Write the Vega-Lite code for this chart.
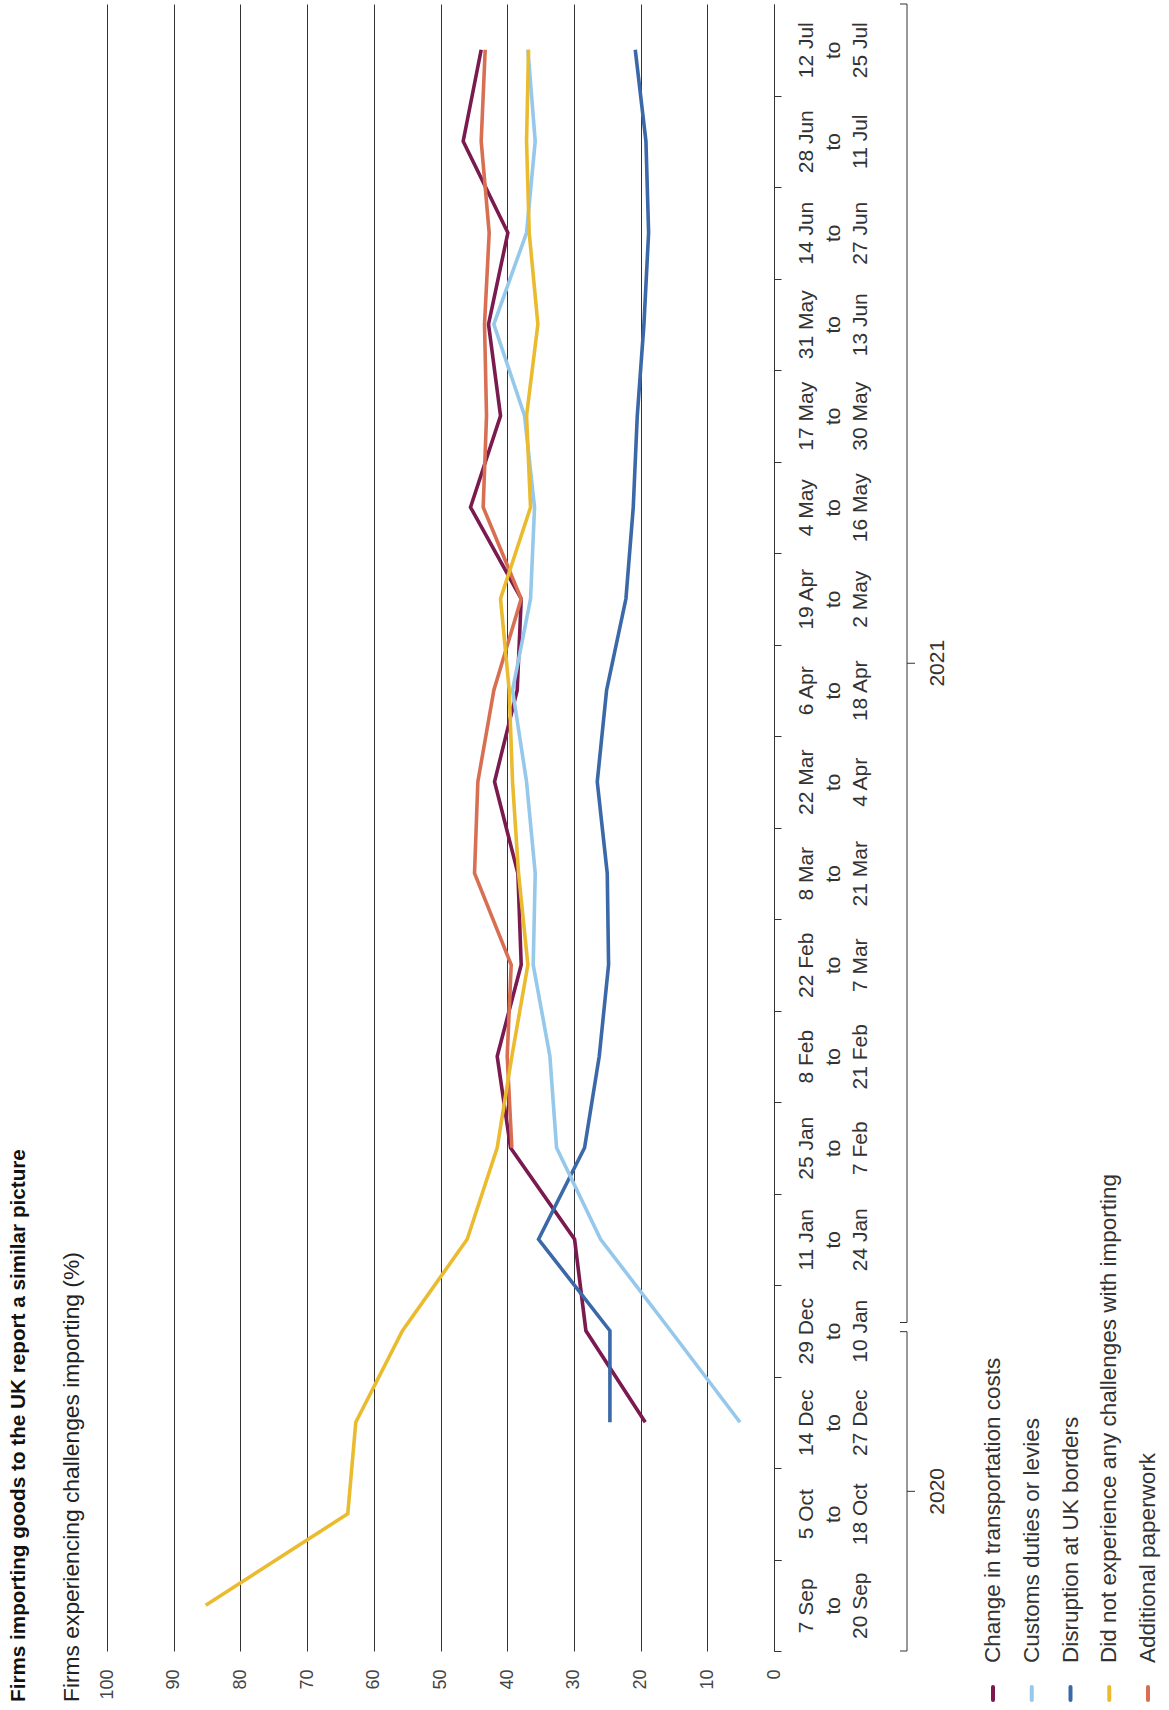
{
  "$schema": "https://vega.github.io/schema/vega-lite/v6.json",
  "width": 667,
  "height": 1647,
  "autosize": {"type": "none"},
  "padding": {"left": 107, "top": 4, "right": 395, "bottom": 59},
  "background": "white",
  "config": {"view": {"stroke": null}, "font": "Liberation Sans"},
  "title": {
    "text": "Firms importing goods to the UK report a similar picture",
    "subtitle": "Firms experiencing challenges importing (%)",
    "orient": "left",
    "anchor": "start",
    "frame": "bounds",
    "offset": 13,
    "font": "Liberation Sans",
    "fontSize": 20.7,
    "fontWeight": "bold",
    "color": "#111111",
    "subtitleFont": "Liberation Sans",
    "subtitleFontSize": 22.8,
    "subtitleColor": "#222222",
    "subtitlePadding": 32
  },
  "datasets": {
    "pts": [
      {"p": "14 Dec to 27 Dec", "i": 3, "s": "Change in transportation costs", "v": 19.3},
      {"p": "29 Dec to 10 Jan", "i": 4, "s": "Change in transportation costs", "v": 28.2},
      {"p": "11 Jan to 24 Jan", "i": 5, "s": "Change in transportation costs", "v": 29.9},
      {"p": "25 Jan to 7 Feb", "i": 6, "s": "Change in transportation costs", "v": 39.5},
      {"p": "8 Feb to 21 Feb", "i": 7, "s": "Change in transportation costs", "v": 41.5},
      {"p": "22 Feb to 7 Mar", "i": 8, "s": "Change in transportation costs", "v": 37.9},
      {"p": "8 Mar to 21 Mar", "i": 9, "s": "Change in transportation costs", "v": 38.4},
      {"p": "22 Mar to 4 Apr", "i": 10, "s": "Change in transportation costs", "v": 41.9},
      {"p": "6 Apr to 18 Apr", "i": 11, "s": "Change in transportation costs", "v": 38.5},
      {"p": "19 Apr to 2 May", "i": 12, "s": "Change in transportation costs", "v": 37.9},
      {"p": "4 May to 16 May", "i": 13, "s": "Change in transportation costs", "v": 45.5},
      {"p": "17 May to 30 May", "i": 14, "s": "Change in transportation costs", "v": 41.0},
      {"p": "31 May to 13 Jun", "i": 15, "s": "Change in transportation costs", "v": 42.8},
      {"p": "14 Jun to 27 Jun", "i": 16, "s": "Change in transportation costs", "v": 39.9},
      {"p": "28 Jun to 11 Jul", "i": 17, "s": "Change in transportation costs", "v": 46.6},
      {"p": "12 Jul to 25 Jul", "i": 18, "s": "Change in transportation costs", "v": 43.9},

      {"p": "14 Dec to 27 Dec", "i": 3, "s": "Disruption at UK borders", "v": 24.6},
      {"p": "29 Dec to 10 Jan", "i": 4, "s": "Disruption at UK borders", "v": 24.6},
      {"p": "11 Jan to 24 Jan", "i": 5, "s": "Disruption at UK borders", "v": 35.3},
      {"p": "25 Jan to 7 Feb", "i": 6, "s": "Disruption at UK borders", "v": 28.4},
      {"p": "8 Feb to 21 Feb", "i": 7, "s": "Disruption at UK borders", "v": 26.2},
      {"p": "22 Feb to 7 Mar", "i": 8, "s": "Disruption at UK borders", "v": 24.8},
      {"p": "8 Mar to 21 Mar", "i": 9, "s": "Disruption at UK borders", "v": 25.0},
      {"p": "22 Mar to 4 Apr", "i": 10, "s": "Disruption at UK borders", "v": 26.5},
      {"p": "6 Apr to 18 Apr", "i": 11, "s": "Disruption at UK borders", "v": 25.1},
      {"p": "19 Apr to 2 May", "i": 12, "s": "Disruption at UK borders", "v": 22.2},
      {"p": "4 May to 16 May", "i": 13, "s": "Disruption at UK borders", "v": 21.1},
      {"p": "17 May to 30 May", "i": 14, "s": "Disruption at UK borders", "v": 20.5},
      {"p": "31 May to 13 Jun", "i": 15, "s": "Disruption at UK borders", "v": 19.5},
      {"p": "14 Jun to 27 Jun", "i": 16, "s": "Disruption at UK borders", "v": 18.8},
      {"p": "28 Jun to 11 Jul", "i": 17, "s": "Disruption at UK borders", "v": 19.2},
      {"p": "12 Jul to 25 Jul", "i": 18, "s": "Disruption at UK borders", "v": 20.8},

      {"p": "14 Dec to 27 Dec", "i": 3, "s": "Customs duties or levies", "v": 5.1},
      {"p": "29 Dec to 10 Jan", "i": 4, "s": "Customs duties or levies", "v": 15.5},
      {"p": "11 Jan to 24 Jan", "i": 5, "s": "Customs duties or levies", "v": 26.0},
      {"p": "25 Jan to 7 Feb", "i": 6, "s": "Customs duties or levies", "v": 32.6},
      {"p": "8 Feb to 21 Feb", "i": 7, "s": "Customs duties or levies", "v": 33.6},
      {"p": "22 Feb to 7 Mar", "i": 8, "s": "Customs duties or levies", "v": 36.1},
      {"p": "8 Mar to 21 Mar", "i": 9, "s": "Customs duties or levies", "v": 35.8},
      {"p": "22 Mar to 4 Apr", "i": 10, "s": "Customs duties or levies", "v": 37.1},
      {"p": "6 Apr to 18 Apr", "i": 11, "s": "Customs duties or levies", "v": 39.2},
      {"p": "19 Apr to 2 May", "i": 12, "s": "Customs duties or levies", "v": 36.5},
      {"p": "4 May to 16 May", "i": 13, "s": "Customs duties or levies", "v": 35.9},
      {"p": "17 May to 30 May", "i": 14, "s": "Customs duties or levies", "v": 37.4},
      {"p": "31 May to 13 Jun", "i": 15, "s": "Customs duties or levies", "v": 42.0},
      {"p": "14 Jun to 27 Jun", "i": 16, "s": "Customs duties or levies", "v": 37.1},
      {"p": "28 Jun to 11 Jul", "i": 17, "s": "Customs duties or levies", "v": 35.8},
      {"p": "12 Jul to 25 Jul", "i": 18, "s": "Customs duties or levies", "v": 36.9},

      {"p": "25 Jan to 7 Feb", "i": 6, "s": "Additional paperwork", "v": 39.3},
      {"p": "8 Feb to 21 Feb", "i": 7, "s": "Additional paperwork", "v": 40.0},
      {"p": "22 Feb to 7 Mar", "i": 8, "s": "Additional paperwork", "v": 39.4},
      {"p": "8 Mar to 21 Mar", "i": 9, "s": "Additional paperwork", "v": 44.9},
      {"p": "22 Mar to 4 Apr", "i": 10, "s": "Additional paperwork", "v": 44.4},
      {"p": "6 Apr to 18 Apr", "i": 11, "s": "Additional paperwork", "v": 42.0},
      {"p": "19 Apr to 2 May", "i": 12, "s": "Additional paperwork", "v": 37.9},
      {"p": "4 May to 16 May", "i": 13, "s": "Additional paperwork", "v": 43.6},
      {"p": "17 May to 30 May", "i": 14, "s": "Additional paperwork", "v": 43.1},
      {"p": "31 May to 13 Jun", "i": 15, "s": "Additional paperwork", "v": 43.4},
      {"p": "14 Jun to 27 Jun", "i": 16, "s": "Additional paperwork", "v": 42.7},
      {"p": "28 Jun to 11 Jul", "i": 17, "s": "Additional paperwork", "v": 43.9},
      {"p": "12 Jul to 25 Jul", "i": 18, "s": "Additional paperwork", "v": 43.3},

      {"p": "7 Sep to 20 Sep", "i": 1, "s": "Did not experience any challenges with importing", "v": 85.2},
      {"p": "5 Oct to 18 Oct", "i": 2, "s": "Did not experience any challenges with importing", "v": 63.9},
      {"p": "14 Dec to 27 Dec", "i": 3, "s": "Did not experience any challenges with importing", "v": 62.7},
      {"p": "29 Dec to 10 Jan", "i": 4, "s": "Did not experience any challenges with importing", "v": 55.7},
      {"p": "11 Jan to 24 Jan", "i": 5, "s": "Did not experience any challenges with importing", "v": 46.0},
      {"p": "25 Jan to 7 Feb", "i": 6, "s": "Did not experience any challenges with importing", "v": 41.5},
      {"p": "8 Feb to 21 Feb", "i": 7, "s": "Did not experience any challenges with importing", "v": 39.3},
      {"p": "22 Feb to 7 Mar", "i": 8, "s": "Did not experience any challenges with importing", "v": 36.9},
      {"p": "8 Mar to 21 Mar", "i": 9, "s": "Did not experience any challenges with importing", "v": 38.3},
      {"p": "22 Mar to 4 Apr", "i": 10, "s": "Did not experience any challenges with importing", "v": 39.2},
      {"p": "6 Apr to 18 Apr", "i": 11, "s": "Did not experience any challenges with importing", "v": 39.7},
      {"p": "19 Apr to 2 May", "i": 12, "s": "Did not experience any challenges with importing", "v": 41.0},
      {"p": "4 May to 16 May", "i": 13, "s": "Did not experience any challenges with importing", "v": 36.5},
      {"p": "17 May to 30 May", "i": 14, "s": "Did not experience any challenges with importing", "v": 37.1},
      {"p": "31 May to 13 Jun", "i": 15, "s": "Did not experience any challenges with importing", "v": 35.4},
      {"p": "14 Jun to 27 Jun", "i": 16, "s": "Did not experience any challenges with importing", "v": 36.7},
      {"p": "28 Jun to 11 Jul", "i": 17, "s": "Did not experience any challenges with importing", "v": 37.1},
      {"p": "12 Jul to 25 Jul", "i": 18, "s": "Did not experience any challenges with importing", "v": 36.8}
    ],
    "years": [
      {"year": "2020", "start": 0, "end": 3.49},
      {"year": "2021", "start": 3.59, "end": 18}
    ],
    "legend": [
      {"s": "Change in transportation costs"},
      {"s": "Customs duties or levies"},
      {"s": "Disruption at UK borders"},
      {"s": "Did not experience any challenges with importing"},
      {"s": "Additional paperwork"}
    ]
  },
  "layer": [
    {
      "data": {"name": "pts"},
      "mark": {"type": "line", "strokeWidth": 3.6, "strokeJoin": "miter"},
      "encoding": {
        "x": {
          "field": "v", "type": "quantitative",
          "scale": {"domain": [0, 100], "reverse": true, "nice": false, "zero": true},
          "axis": {
            "orient": "bottom", "title": null,
            "values": [0, 10, 20, 30, 40, 50, 60, 70, 80, 90, 100],
            "grid": true, "gridColor": "#333333", "gridWidth": 1,
            "domain": false, "ticks": false,
            "labelAngle": 270, "labelAlign": "right", "labelBaseline": "middle",
            "labelFont": "Liberation Sans", "labelFontSize": 18, "labelColor": "#444444",
            "labelPadding": 18
          }
        },
        "y": {
          "field": "p", "type": "ordinal",
          "scale": {
            "type": "band",
            "domain": ["7 Sep to 20 Sep", "5 Oct to 18 Oct", "14 Dec to 27 Dec", "29 Dec to 10 Jan", "11 Jan to 24 Jan", "25 Jan to 7 Feb", "8 Feb to 21 Feb", "22 Feb to 7 Mar", "8 Mar to 21 Mar", "22 Mar to 4 Apr", "6 Apr to 18 Apr", "19 Apr to 2 May", "4 May to 16 May", "17 May to 30 May", "31 May to 13 Jun", "14 Jun to 27 Jun", "28 Jun to 11 Jul", "12 Jul to 25 Jul"],
            "reverse": true, "paddingInner": 0, "paddingOuter": 0
          },
          "axis": {
            "orient": "right", "title": null, "grid": false,
            "tickBand": "extent", "tickSize": 7, "tickColor": "#333333",
            "domain": true, "domainColor": "#333333",
            "labelAngle": 270, "labelAlign": "center", "labelBaseline": "top",
            "labelFont": "Liberation Sans", "labelFontSize": 21, "labelLineHeight": 27,
            "labelColor": "#333333", "labelPadding": 14,
            "labelExpr": "indexof(datum.label, ' to ') > 0 ? [split(datum.label, ' to ')[0], 'to', split(datum.label, ' to ')[1]] : ''"
          }
        },
        "color": {
          "field": "s", "type": "nominal",
          "scale": {
            "domain": ["Change in transportation costs", "Customs duties or levies", "Disruption at UK borders", "Did not experience any challenges with importing", "Additional paperwork"],
            "range": ["#7a1a4f", "#95c8ea", "#3b68a8", "#ebbb2f", "#d86f52"]
          },
          "legend": null
        },
        "order": {"field": "i", "type": "quantitative"}
      }
    },
    {
      "data": {"name": "years"},
      "transform": [{"calculate": "(datum.start + datum.end) / 2", "as": "mid"}],
      "layer": [
        {
          "mark": {"type": "rule", "color": "#333333", "strokeWidth": 1},
          "encoding": {
            "y": {"field": "start", "type": "quantitative", "scale": {"domain": [0, 18], "nice": false, "zero": false}, "axis": null},
            "y2": {"field": "end"},
            "x": {"value": 800}
          }
        },
        {
          "mark": {"type": "rule", "color": "#333333", "strokeWidth": 1},
          "encoding": {
            "y": {"field": "start", "type": "quantitative", "axis": null},
            "x": {"value": 793}, "x2": {"value": 800}
          }
        },
        {
          "mark": {"type": "rule", "color": "#333333", "strokeWidth": 1},
          "encoding": {
            "y": {"field": "end", "type": "quantitative", "axis": null},
            "x": {"value": 793}, "x2": {"value": 800}
          }
        },
        {
          "mark": {"type": "rule", "color": "#333333", "strokeWidth": 1},
          "encoding": {
            "y": {"field": "mid", "type": "quantitative", "axis": null},
            "x": {"value": 800}, "x2": {"value": 808}
          }
        },
        {
          "mark": {"type": "text", "angle": 270, "align": "center", "baseline": "middle", "font": "Liberation Sans", "fontSize": 21, "color": "#333333"},
          "encoding": {
            "y": {"field": "mid", "type": "quantitative", "axis": null},
            "x": {"value": 831},
            "text": {"field": "year"}
          }
        }
      ]
    },
    {
      "data": {"name": "legend"},
      "layer": [
        {
          "mark": {"type": "rule", "strokeWidth": 4, "strokeCap": "round"},
          "encoding": {
            "x": {"field": "s", "type": "nominal", "scale": {"type": "point", "domain": ["Change in transportation costs", "Customs duties or levies", "Disruption at UK borders", "Did not experience any challenges with importing", "Additional paperwork"], "range": [886, 1041], "padding": 0}, "axis": null},
            "y": {"value": 1683},
            "y2": {"value": 1696},
            "color": {"field": "s", "type": "nominal", "legend": null}
          }
        },
        {
          "mark": {"type": "text", "angle": 270, "align": "left", "baseline": "middle", "font": "Liberation Sans", "fontSize": 22.5, "color": "#333333"},
          "encoding": {
            "x": {"field": "s", "type": "nominal", "axis": null},
            "y": {"value": 1659},
            "text": {"field": "s"}
          }
        }
      ]
    }
  ],
  "resolve": {"scale": {"x": "independent", "y": "independent"}}
}
